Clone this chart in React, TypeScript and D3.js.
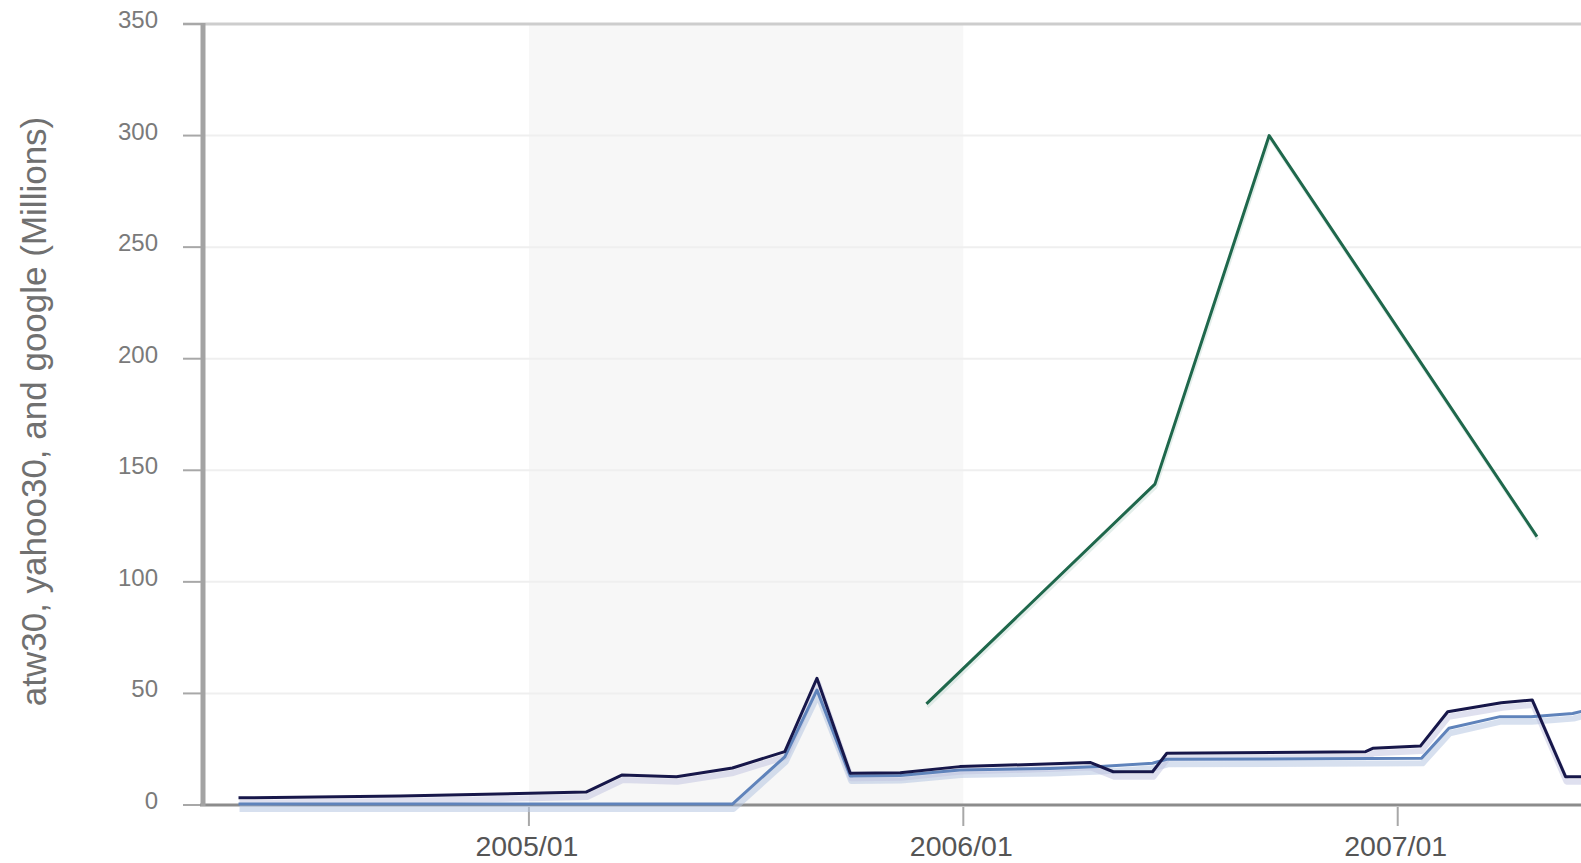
import React, { useEffect } from 'react';
import * as d3 from 'd3';

// ---- data ----
const atwDates = [
  '2004-05-02', '2004-09-15', '2005-02-18', '2005-03-20', '2005-05-05', '2005-06-21',
  '2005-08-04', '2005-08-31', '2005-09-28', '2005-11-09', '2005-12-29', '2006-04-18',
  '2006-05-07', '2006-06-09', '2006-06-21', '2006-12-05', '2006-12-11', '2007-01-20',
  '2007-02-12', '2007-03-29', '2007-04-24', '2007-05-22', '2007-06-12',
];
const atwValues = [
  3.2, 4.0, 5.8, 13.4, 12.7, 16.6,
  23.9, 56.8, 14.2, 14.5, 17.2, 19.0,
  14.9, 14.9, 23.2, 23.9, 25.4, 26.4,
  41.8, 45.8, 47.1, 12.7, 12.7,
];

const yahooDates = [
  '2004-05-02', '2005-06-21', '2005-08-04', '2005-08-31', '2005-09-28', '2005-11-09',
  '2005-12-29', '2006-03-15', '2006-04-26', '2006-06-09', '2006-06-21', '2007-01-21',
  '2007-02-13', '2007-03-28', '2007-04-23', '2007-05-28', '2007-06-12',
];
const yahooValues = [
  0.4, 0.4, 21.6, 51.5, 13.0, 13.2,
  15.7, 16.4, 17.2, 18.7, 20.5, 20.9,
  34.4, 39.6, 39.6, 41.0, 43.0,
];

const googleDates = ['2005-12-01', '2006-06-11', '2006-09-15', '2007-04-28'];
const googleValues = [45.3, 143.8, 300, 120.3];

const xDomain = ['2004-04-03', '2007-06-04'];
const xTicks = ['2005-01-01', '2006-01-01', '2007-01-01'];
const xTickLabels = ['2005/01', '2006/01', '2007/01'];
const yTicks = [0, 50, 100, 150, 200, 250, 300, 350];
const band = ['2005-01-01', '2006-01-01'];
const yTitle = 'atw30, yahoo30, and google (Millions)';

// ---- layout ----
const W = 1581;
const H = 863;
const margin = { left: 204, right: 0, top: 24, bottom: 58 };
const FONT = '"Liberation Sans", Arial, Helvetica, sans-serif';

export default function App() {
  useEffect(() => {
    document.body.style.margin = '0';
    document.body.style.overflow = 'hidden';
  }, []);

  const parse = d3.timeParse('%Y-%m-%d');
  const x = d3
    .scaleTime()
    .domain(xDomain.map((s) => parse(s) as Date))
    .range([margin.left, W - margin.right]);
  const y = d3.scaleLinear().domain([0, 350]).range([H - margin.bottom, margin.top]);

  const line = d3
    .line<[Date, number]>()
    .x((d) => x(d[0]))
    .y((d) => y(d[1]));

  const toPts = (ds: string[], vs: number[]) =>
    ds.map((d, i) => [parse(d) as Date, vs[i]] as [Date, number]);

  const atw = line(toPts(atwDates, atwValues)) || '';
  const yahoo = line(toPts(yahooDates, yahooValues)) || '';
  const google = line(toPts(googleDates, googleValues)) || '';

  const x0 = margin.left;
  const x1 = W - margin.right;
  const yBase = y(0);
  const yTop = y(350);

  return (
    <svg
      width={W}
      height={H}
      style={{ position: 'absolute', left: 0, top: 0, display: 'block', background: '#fff' }}
    >
      <defs>
        <clipPath id="plot">
          <rect x={x0} y={0} width={x1 - x0} height={yBase + 10} />
        </clipPath>
      </defs>

      {/* shaded band */}
      <rect
        x={x(parse(band[0]) as Date)}
        y={yTop}
        width={x(parse(band[1]) as Date) - x(parse(band[0]) as Date)}
        height={yBase - yTop}
        fill="#f7f7f7"
      />

      {/* gridlines */}
      {yTicks.slice(1, -1).map((t) => (
        <line key={'g' + t} x1={x0} x2={x1} y1={y(t)} y2={y(t)} stroke="#efefef" strokeWidth={2} />
      ))}
      <line x1={x0 - 21} x2={x1} y1={yTop} y2={yTop} stroke="#cdcdcd" strokeWidth={3} />

      {/* y ticks */}
      {yTicks.map((t) => (
        <line key={'t' + t} x1={x0 - 21} x2={x0} y1={y(t)} y2={y(t)} stroke="#a8a8a8" strokeWidth={2} />
      ))}
      {yTicks.map((t) => (
        <text
          key={'l' + t}
          x={158}
          y={y(t) + 4}
          textAnchor="end"
          fontFamily={FONT}
          fontSize={24}
          fill="#7a7a7a"
        >
          {t}
        </text>
      ))}

      {/* x axis */}
      <line x1={x0 - 4} x2={x1} y1={yBase} y2={yBase} stroke="#8c8c8c" strokeWidth={3} />
      {xTicks.map((t, i) => {
        const xp = x(parse(t) as Date);
        return (
          <g key={'x' + t}>
            <line x1={xp} x2={xp} y1={yBase + 2} y2={yBase + 21} stroke="#a8a8a8" strokeWidth={2} />
            <text
              x={xp - 2}
              y={yBase + 51}
              textAnchor="middle"
              fontFamily={FONT}
              fontSize={28.5}
              fill="#555"
            >
              {xTickLabels[i]}
            </text>
          </g>
        );
      })}

      {/* y axis */}
      <line x1={x0 - 1} x2={x0 - 1} y1={yTop - 1} y2={yBase + 1} stroke="#a3a3a3" strokeWidth={5} />

      {/* y title */}
      <text
        transform={`translate(${46},${(yTop + yBase) / 2 - 3}) rotate(-90)`}
        textAnchor="middle"
        fontFamily={FONT}
        fontSize={35}
        fill="#707070"
      >
        {yTitle}
      </text>

      {/* series */}
      <g clipPath="url(#plot)" fill="none" strokeLinejoin="round">
        <path d={yahoo} transform="translate(1,5)" stroke="#b6c6e2" strokeWidth={6} opacity={0.55} />
        <path d={atw} transform="translate(1,5)" stroke="#bfc2df" strokeWidth={6} opacity={0.5} />
        <path d={google} transform="translate(1,3)" stroke="#bcd6cc" strokeWidth={3} opacity={0.4} />
        <path d={yahoo} stroke="#5f83bb" strokeWidth={3} />
        <path d={atw} stroke="#17174a" strokeWidth={3} />
        <path d={google} stroke="#1f684c" strokeWidth={3} />
      </g>
    </svg>
  );
}
